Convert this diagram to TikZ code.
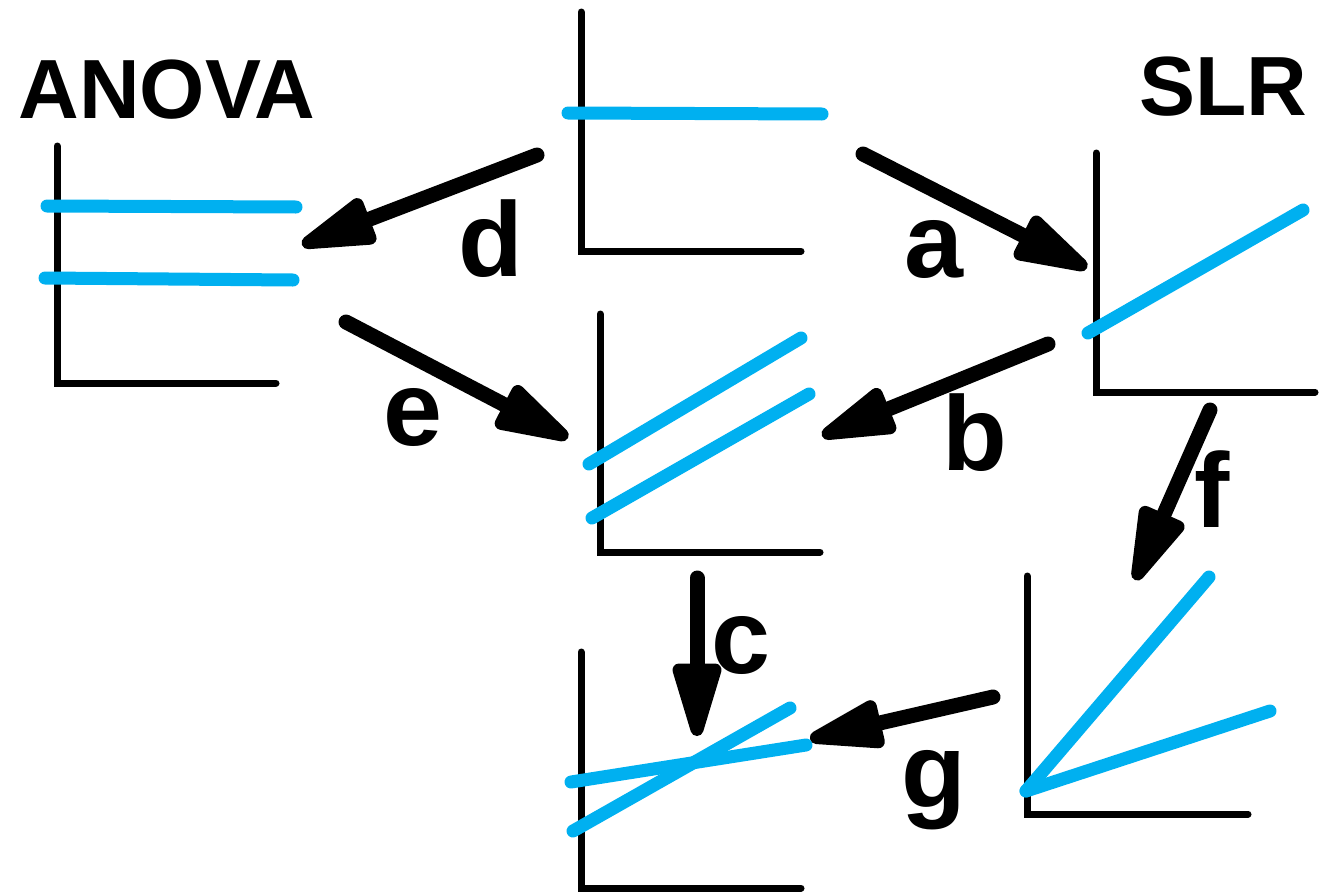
\documentclass[tikz,border=0pt]{standalone}
\usepackage{fontspec}
\setmainfont{Liberation Sans}
\usetikzlibrary{calc}
\definecolor{sky}{HTML}{00B0F0}
\tikzset{
  axis/.style={line width=7pt, line cap=round, black},
  fit/.style={line width=13pt, line cap=round, sky},
  shaft/.style={line width=15pt, line cap=round, black},
  head/.style={line width=13pt, line join=round, fill=black, draw=black},
  title/.style={font=\bfseries\fontsize{84}{84}\selectfont, inner sep=0pt},
  lab/.style={font=\bfseries\fontsize{106}{106}\selectfont, inner sep=0pt}
}
\newcommand\myarrow[2]{%
  \draw[shaft] (#1) -- ($(#2)!40pt!(#1)$);
  \filldraw[head] ($(#2)!6.5pt!(#1)$) -- ($(#2)!66pt!(#1)!18pt!90:(#2)$)
     -- ($(#2)!66pt!(#1)!18pt!-90:(#2)$) -- cycle;
}
\begin{document}
\begin{tikzpicture}[x=1pt,y=-1pt]
\useasboundingbox (0,0) rectangle (1330,894);
% titles
\node[title] (anova) at (167,90) {ANOVA};
\node[title] (slr) at (1223,87) {SLR};
% top-centre panel
\draw[axis] (581,12) -- (581,251) -- (801,251);
\draw[fit] (568,113) -- (822,114);
% ANOVA panel
\draw[axis] (57,146) -- (57,383) -- (276,383);
\draw[fit] (47,206) -- (296,207);
\draw[fit] (45,278) -- (293,280);
% SLR panel
\draw[axis] (1096,153) -- (1096,392) -- (1315,392);
\draw[fit] (1088,333) -- (1303,210);
% middle panel
\draw[axis] (600,314) -- (600,552) -- (820,552);
\draw[fit] (589,464) -- (801,338);
\draw[fit] (592,518) -- (809,394);
% bottom panel
\draw[axis] (581,652) -- (581,888) -- (801,888);
\draw[fit] (573,831) -- (790,708);
\draw[fit] (571,782) -- (806,745);
% bottom-right panel
\draw[axis] (1027,576) -- (1027,814) -- (1248,814);
\draw[fit] (1026,791) -- (1209,577);
\draw[fit] (1026,791) -- (1270,711);
% arrow end points
\coordinate (d1) at (537,155); \coordinate (d2) at (302,245);
\coordinate (a1) at (863,154); \coordinate (a2) at (1087,268);
\coordinate (b1) at (1048,344); \coordinate (b2) at (822,436);
\coordinate (e1) at (346,322); \coordinate (e2) at (568,438);
\coordinate (c1) at (697,578); \coordinate (c2) at (697,736);
\coordinate (f1) at (1210,410); \coordinate (f2) at (1135,580);
\coordinate (g1) at (993,697); \coordinate (g2) at (810,739);
\myarrow{d1}{d2}
\myarrow{a1}{a2}
\myarrow{b1}{b2}
\myarrow{e1}{e2}
\myarrow{c1}{c2}
\myarrow{f1}{f2}
\myarrow{g1}{g2}
% labels
\node[lab] (ld) at (491,239) {d};
\node[lab] (la) at (934,249) {a};
\node[lab] (lb) at (975,433) {b};
\node[lab] (le) at (413,417) {e};
\node[lab] (lc) at (741,645) {c};
\node[lab] (lf) at (1212,489) {f};
\node[lab] (lg) at (934,790) {g};
\end{tikzpicture}
\end{document}
